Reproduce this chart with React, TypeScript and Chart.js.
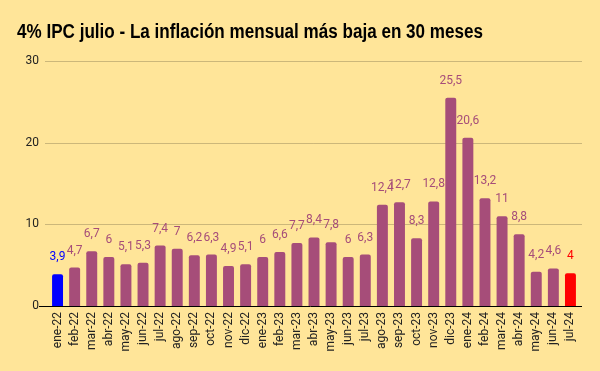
import React, { useEffect, useRef } from "react";
import { Chart, registerables } from "chart.js";

Chart.register(...registerables);

const TITLE = "4% IPC julio - La inflación mensual más baja en 30 meses";

const categories = [
  "ene-22", "feb-22", "mar-22", "abr-22", "may-22", "jun-22", "jul-22", "ago-22",
  "sep-22", "oct-22", "nov-22", "dic-22", "ene-23", "feb-23", "mar-23", "abr-23",
  "may-23", "jun-23", "jul-23", "ago-23", "sep-23", "oct-23", "nov-23", "dic-23",
  "ene-24", "feb-24", "mar-24", "abr-24", "may-24", "jun-24", "jul-24",
];

const values = [
  3.9, 4.7, 6.7, 6, 5.1, 5.3, 7.4, 7, 6.2, 6.3, 4.9, 5.1, 6, 6.6, 7.7, 8.4,
  7.8, 6, 6.3, 12.4, 12.7, 8.3, 12.8, 25.5, 20.6, 13.2, 11, 8.8, 4.2, 4.6, 4,
];

const yTicks = [0, 10, 20, 30];

const BG = "#ffe599";
const PURPLE = "#a64d79";
const FIRST = "#0000ff";
const LAST = "#ff0000";

const barColors = values.map((_, i) =>
  i === 0 ? FIRST : i === values.length - 1 ? LAST : PURPLE
);

const fmt = (v: number) => String(v).replace(".", ",");

const customPlugin = {
  id: "custom",
  beforeDraw(chart: any) {
    const ctx = chart.ctx;
    ctx.save();
    ctx.fillStyle = BG;
    ctx.fillRect(0, 0, chart.width, chart.height);
    ctx.fillStyle = "#000";
    ctx.font = "bold 20px 'Liberation Sans', Arial, sans-serif";
    ctx.textBaseline = "alphabetic";
    ctx.textAlign = "left";
    const w = ctx.measureText(TITLE).width;
    const sx = 466 / w;
    ctx.translate(17, 38);
    ctx.scale(sx, 1);
    ctx.fillText(TITLE, 0, 0);
    ctx.restore();
  },
  beforeDatasetsDraw(chart: any) {
    const ctx = chart.ctx;
    const y = chart.scales.y;
    const area = chart.chartArea;
    ctx.save();
    ctx.strokeStyle = "rgba(0,0,0,0.2)";
    ctx.lineWidth = 1;
    yTicks.forEach((t) => {
      if (t === 0) return;
      const py = Math.round(y.getPixelForValue(t)) + 0.5;
      ctx.beginPath();
      ctx.moveTo(area.left - 4, py);
      ctx.lineTo(area.right + 3, py);
      ctx.stroke();
    });
    ctx.restore();
  },
  afterDatasetsDraw(chart: any) {
    const ctx = chart.ctx;
    const y = chart.scales.y;
    const area = chart.chartArea;
    ctx.save();
    const py = Math.round(y.getPixelForValue(0)) + 0.5;
    ctx.strokeStyle = "#000";
    ctx.lineWidth = 1;
    ctx.beginPath();
    ctx.moveTo(area.left - 10, py);
    ctx.lineTo(area.right + 3, py);
    ctx.stroke();

    const meta = chart.getDatasetMeta(0);
    ctx.font = "12px Roboto, sans-serif";
    ctx.textAlign = "center";
    ctx.textBaseline = "alphabetic";
    meta.data.forEach((bar: any, i: number) => {
      ctx.fillStyle = barColors[i];
      ctx.fillText(fmt(values[i]), bar.x, bar.y - 14);
    });
    ctx.restore();
  },
};

export default function App() {
  const ref = useRef<HTMLCanvasElement | null>(null);

  useEffect(() => {
    document.body.style.margin = "0";
    if (!ref.current) return;
    const chart = new Chart(ref.current, {
      type: "bar",
      data: {
        labels: categories,
        datasets: [
          {
            data: values,
            backgroundColor: barColors,
            borderRadius: { topLeft: 2, topRight: 2, bottomLeft: 0, bottomRight: 0 },
            borderSkipped: "start",
            barPercentage: 0.64,
            categoryPercentage: 1,
          },
        ],
      },
      options: {
        animation: false,
        responsive: false,
        devicePixelRatio: 1,
        layout: { padding: { top: 61, right: 21, bottom: 0, left: 0 } },
        plugins: {
          legend: { display: false },
          title: { display: false },
          tooltip: { enabled: false },
        },
        scales: {
          x: {
            grid: { display: false, drawTicks: false },
            border: { display: false },
            ticks: {
              autoSkip: false,
              maxRotation: 90,
              minRotation: 90,
              padding: 6,
              color: "#222",
              font: { family: "Roboto, sans-serif", size: 12 },
            },
            afterFit: (s: any) => {
              s.height = 65;
            },
          },
          y: {
            min: 0,
            max: 30,
            grid: { display: false, drawTicks: false },
            border: { display: false },
            ticks: {
              stepSize: 10,
              padding: 10,
              color: "#222",
              font: { family: "Roboto, sans-serif", size: 12 },
            },
            afterFit: (s: any) => {
              s.width = 49;
            },
          },
        },
      },
      plugins: [customPlugin],
    });
    return () => chart.destroy();
  }, []);

  return (
    <div style={{ position: "fixed", left: 0, top: 0, width: 600, height: 371, background: BG }}>
      <canvas ref={ref} width={600} height={371} />
    </div>
  );
}
